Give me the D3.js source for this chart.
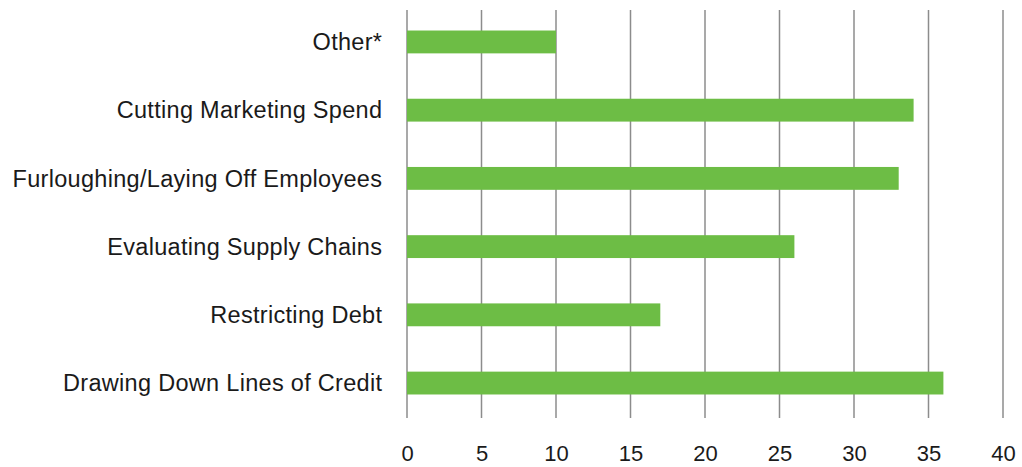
<!DOCTYPE html>
<html>
<head>
<meta charset="utf-8">
<script src="https://cdn.jsdelivr.net/npm/d3@7/dist/d3.min.js"></script>
<style>
  html, body { margin: 0; padding: 0; background: #fff; }
  svg { display: block; }
  text { font-family: "Liberation Sans", Arial, Helvetica, sans-serif; fill: #1a1a1a; }
</style>
</head>
<body>
<svg id="chart" width="1022" height="467"></svg>
<script>
// Cost-cutting actions and share of responses (%)
const categories = [
  "Other*",
  "Cutting Marketing Spend",
  "Furloughing/Laying Off Employees",
  "Evaluating Supply Chains",
  "Restricting Debt",
  "Drawing Down Lines of Credit"
];
const values = [10, 34, 33, 26, 17, 36];
const tickValues = [0, 5, 10, 15, 20, 25, 30, 35, 40];

const svg = d3.select("#chart");

const x = d3.scaleLinear().domain([0, 40]).range([407, 1003]);
const y = d3.scaleBand().domain(categories).range([8, 417]).paddingInner(0.665).paddingOuter(0.33);

// vertical gridlines
svg.append("g")
  .selectAll("line")
  .data(tickValues)
  .join("line")
  .attr("x1", d => x(d))
  .attr("x2", d => x(d))
  .attr("y1", 10)
  .attr("y2", 418)
  .attr("stroke", "#8c8c8c")
  .attr("stroke-width", 1.5);

// bars
svg.append("g")
  .selectAll("rect")
  .data(categories)
  .join("rect")
  .attr("x", x(0))
  .attr("y", d => y(d))
  .attr("width", (d, i) => x(values[i]) - x(0))
  .attr("height", y.bandwidth())
  .attr("fill", "#6dbd45");

// category labels
svg.append("g")
  .selectAll("text")
  .data(categories)
  .join("text")
  .attr("x", 382.3)
  .attr("y", d => y(d) + y.bandwidth() / 2)
  .attr("dy", "0.35em")
  .attr("text-anchor", "end")
  .attr("font-size", 23.5)
  .attr("letter-spacing", 0.3)
  .text(d => d);

// x axis tick labels
const xAxis = d3.axisBottom(x).tickValues(tickValues).tickSize(0).tickPadding(0);
const axisG = svg.append("g").attr("transform", "translate(0,445)").call(xAxis);
axisG.select(".domain").remove();
axisG.selectAll("text")
  .attr("font-size", 22)
  .attr("font-family", "\"Liberation Sans\", Arial, sans-serif")
  .attr("fill", "#1a1a1a");
</script>
</body>
</html>
